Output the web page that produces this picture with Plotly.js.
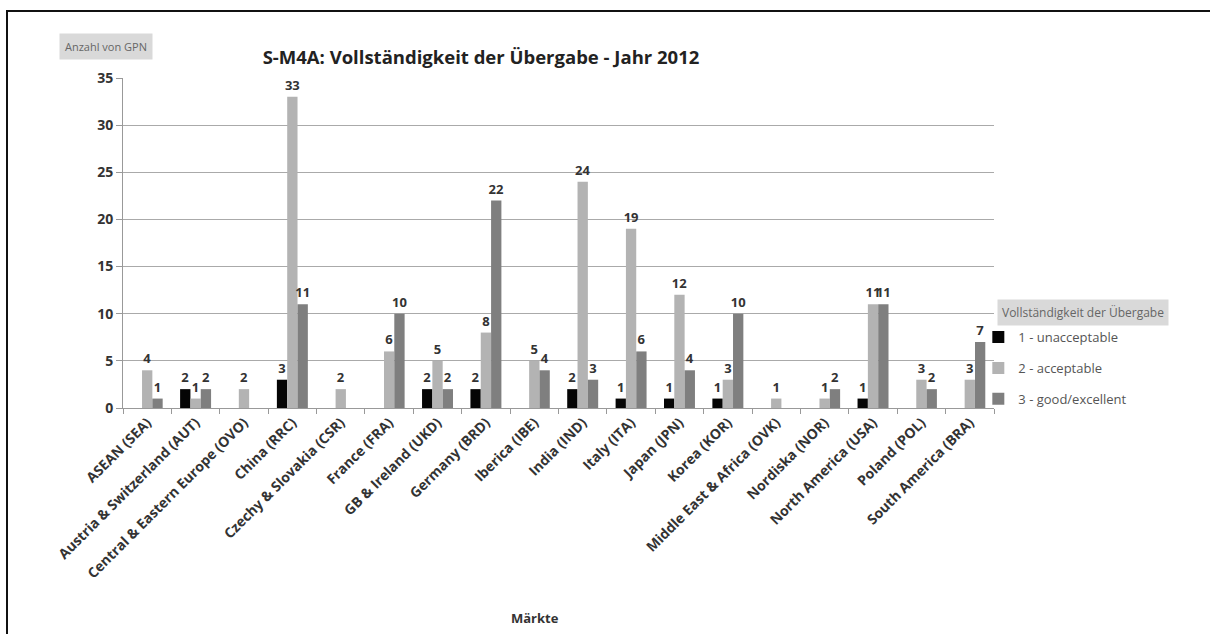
<!DOCTYPE html>
<html><head><meta charset="utf-8">
<script src="https://cdn.plot.ly/plotly-3.0.1.min.js"></script>
<style>
html,body{margin:0;padding:0;background:#fff;overflow:hidden;width:1210px;height:634px;}
#wrap{position:relative;width:1210px;height:634px;overflow:hidden;}
#chart{position:absolute;left:0;top:0;width:1210px;height:634px;}
#frame{position:absolute;left:6px;top:10px;width:1300px;height:700px;border-left:2px solid #111;border-top:2px solid #111;pointer-events:none;}
</style></head>
<body><div id="wrap"><div id="chart"></div><div id="frame"></div></div>
<script>
const categories = ["ASEAN (SEA)","Austria & Switzerland (AUT)","Central & Eastern Europe (OVO)","China (RRC)","Czechy & Slovakia (CSR)","France (FRA)","GB & Ireland (UKD)","Germany (BRD)","Iberica (IBE)","India (IND)","Italy (ITA)","Japan (JPN)","Korea (KOR)","Middle East & Africa (OVK)","Nordiska (NOR)","North America (USA)","Poland (POL)","South America (BRA)"];
const unacceptable = [0,2,0,3,0,0,2,2,0,2,1,1,1,0,0,1,0,0];
const acceptable   = [4,1,2,33,2,6,5,8,5,24,19,12,3,1,1,11,3,3];
const good         = [1,2,0,11,0,10,2,22,4,3,6,4,10,0,2,11,2,7];
const seriesNames = ["1 - unacceptable","2 - acceptable","3 - good/excellent"];
const yTicks = [0,5,10,15,20,25,30,35];

const FONT = "Open Sans, Liberation Sans, sans-serif";
const colors = ["#050505","#b3b3b3","#7f7f7f"];
const allSeries = [unacceptable, acceptable, good];

const traces = allSeries.map((vals,i)=>({
  type:"bar",
  name:seriesNames[i],
  x:categories,
  y:vals,
  marker:{color:colors[i]},
  text:vals.map(v=>v>0?String(v):""),
  textposition:"outside",
  constraintext:"none",
  cliponaxis:false,
  textfont:{family:FONT,size:13,color:"#333",weight:"bold"},
  legendgroup:"g"+i,
  hoverinfo:"x+y+name"
}));

const layout = {
  width:1210,height:634,
  paper_bgcolor:"rgba(0,0,0,0)",
  plot_bgcolor:"#fff",
  margin:{l:123,r:216,t:78,b:226,pad:0},
  barmode:"group",
  bargap:0.36,
  bargroupgap:0,
  font:{family:FONT,color:"#333"},
  title:{text:"S-M4A: Vollständigkeit der Übergabe - Jahr 2012",
    font:{family:FONT,size:18.5,color:"#222",weight:"bold"},
    x:0.411,xanchor:"center",xref:"paper",y:0.91,yanchor:"middle",yref:"container"},
  xaxis:{
    type:"category",
    tickangle:-45,
    tickfont:{family:FONT,size:14,color:"#333",weight:"bold"},
    ticks:"outside",tickson:"boundaries",ticklen:5,tickcolor:"#999",
    showline:true,linecolor:"#999",linewidth:1,
    showgrid:false,
    automargin:false
  },
  yaxis:{
    range:[0,35],
    tickvals:yTicks,
    tickfont:{family:FONT,size:14,color:"#333",weight:"bold"},
    ticks:"outside",ticklen:6,tickcolor:"#999",
    showline:true,linecolor:"#999",linewidth:1,
    showgrid:true,gridcolor:"#aaaaaa",gridwidth:1,
    zeroline:false,
    automargin:false
  },
  showlegend:true,
  legend:{
    x:0.982,xref:"paper",xanchor:"left",
    y:0.121,yanchor:"middle",
    font:{family:FONT,size:13,color:"#555"},
    tracegroupgap:11,
    traceorder:"grouped",
    itemwidth:30,
    bgcolor:"rgba(0,0,0,0)"
  },
  annotations:[
    {text:"Anzahl von GPN",xref:"paper",yref:"paper",x:-0.0195,y:1.094,xanchor:"center",yanchor:"middle",
     showarrow:false,font:{family:FONT,size:11,color:"#666"},bgcolor:"#d9d9d9",borderpad:5},
    {text:"Vollständigkeit der Übergabe",xref:"paper",yref:"paper",x:1.003,y:0.288,xanchor:"left",yanchor:"middle",
     showarrow:false,font:{family:FONT,size:12,color:"#666"},bgcolor:"#d9d9d9",borderpad:4},
    {text:"Märkte",xref:"paper",yref:"paper",x:0.473,y:-0.636,xanchor:"center",yanchor:"middle",
     showarrow:false,font:{family:FONT,size:13,color:"#333",weight:"bold"}}
  ]
};

Plotly.newPlot("chart",traces,layout,{displayModeBar:false,staticPlot:true});
</script></body></html>
